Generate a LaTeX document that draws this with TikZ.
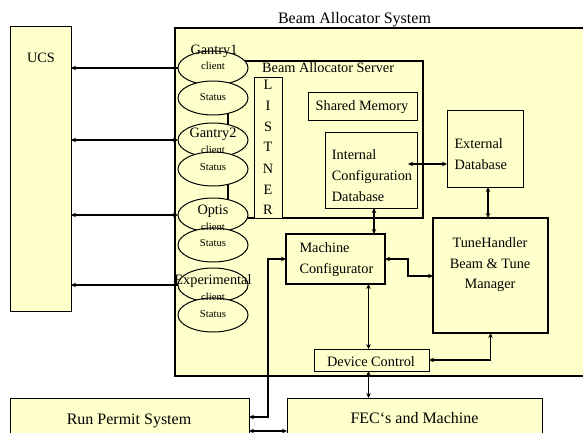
\documentclass[tikz,border=0pt]{standalone}
\usepackage{fontspec}
\setmainfont{Liberation Serif}
\usetikzlibrary{arrows.meta,shapes.geometric}
\definecolor{paper}{RGB}{255,255,204}
\begin{document}
\begin{tikzpicture}[x=1pt,y=-1pt,
  box/.style={draw, fill=paper, line width=1pt, inner sep=0pt, outer sep=0pt, anchor=north west},
  thickbox/.style={box, line width=2.8pt},
  oval/.style={ellipse, draw, fill=paper, line width=1pt, minimum width=70pt, minimum height=34pt, inner sep=0pt, outer sep=0pt},
  txt/.style={font=\fontsize{14.3}{17}\selectfont, inner sep=0pt, anchor=base},
  big/.style={font=\fontsize{16}{19}\selectfont, inner sep=0pt, anchor=base},
  small/.style={font=\fontsize{10.7}{12}\selectfont, inner sep=0pt, anchor=base},
  conn/.style={line width=1.1pt, -{Stealth[length=5pt,width=4.5pt]}},
  bi/.style={line width=1.1pt, {Stealth[length=5pt,width=4.5pt]}-{Stealth[length=5pt,width=4.5pt]}},
]
\useasboundingbox (0,0) rectangle (583,433);
\fill[white] (0,0) rectangle (583,433);

% containers and boxes
\node[box, line width=1.3pt, minimum width=412pt, minimum height=348pt] (bas) at (175,28) {};
\node[big] (title) at (354.5,24) {Beam Allocator System};
\node[box, minimum width=61pt, minimum height=284pt] (ucs) at (10,27) {};
\node[box, minimum width=239pt, minimum height=50pt] (rps) at (10,398) {};
\node[box, minimum width=255pt, minimum height=50pt] (fec) at (287,398) {};

\node[thickbox, minimum width=195pt, minimum height=157pt] (server) at (228,61) {};
\node[box, minimum width=28pt, minimum height=140pt] (lst) at (254,78) {};
\node[box, minimum width=109pt, minimum height=28pt] (shm) at (308,93) {};
\node[box, minimum width=92pt, minimum height=76pt] (icd) at (325,132) {};
\node[box, minimum width=76pt, minimum height=76pt] (ext) at (447,111) {};
\node[thickbox, minimum width=99pt, minimum height=50pt] (mc) at (286,234) {};
\node[thickbox, minimum width=115pt, minimum height=115pt] (th) at (433,218) {};
\node[box, minimum width=115pt, minimum height=22pt] (dc) at (314,349) {};

% client / status ovals
\node[oval] (g1c) at (213,68) {};
\node[oval] (g1s) at (213,98) {};
\node[oval] (g2c) at (213,140) {};
\node[oval] (g2s) at (213,169) {};
\node[oval] (opc) at (213,215) {};
\node[oval] (ops) at (213,245) {};
\node[oval] (exc) at (213,285) {};
\node[oval] (exs) at (213,315) {};

% texts
\node[txt] (tucs) at (41,62.5) {UCS};
\node[big] (trps) at (129,424) {Run Permit System};
\node[big] (tfec) at (414.5,423.5) {FEC‘s and Machine};
\node[txt, anchor=base west] (tserver) at (262,73) {Beam Allocator Server};
\node[txt] (tl1) at (268,89.7) {L};
\node[txt] (tl2) at (268,110.7) {I};
\node[txt] (tl3) at (268,131.7) {S};
\node[txt] (tl4) at (268,151.7) {T};
\node[txt] (tl5) at (268,173.7) {N};
\node[txt] (tl6) at (268,194.7) {E};
\node[txt] (tl7) at (268,214.7) {R};
\node[txt] (tshm) at (362,110.7) {Shared Memory};
\node[txt, anchor=base west] (ticd1) at (331.7,159) {Internal};
\node[txt, anchor=base west] (ticd2) at (331.7,180.5) {Configuration};
\node[txt, anchor=base west] (ticd3) at (331.7,201) {Database};
\node[txt, anchor=base west] (text1) at (454.3,148.3) {External};
\node[txt, anchor=base west] (text2) at (454.3,169) {Database};
\node[txt, anchor=base west] (tmc1) at (299.3,252.3) {Machine};
\node[txt, anchor=base west] (tmc2) at (299.3,273) {Configurator};
\node[txt] (tth1) at (490,247.7) {TuneHandler};
\node[txt] (tth2) at (490,268.3) {Beam \& Tune};
\node[txt] (tth3) at (490,288.5) {Manager};
\node[txt] (tdc) at (371,366) {Device Control};

\node[txt] (tg1) at (214,54.5) {Gantry1};
\node[small] (tg1c) at (213,70) {client};
\node[small] (tg1s) at (213,101) {Status};
\node[txt] (tg2) at (213,137) {Gantry2};
\node[small] (tg2c) at (213,153.5) {client};
\node[small] (tg2s) at (213,170.5) {Status};
\node[txt] (top) at (213,214) {Optis};
\node[small] (topc) at (213,230.5) {client};
\node[small] (tops) at (213,246.5) {Status};
\node[txt] (tex) at (213,284) {Experimental};
\node[small] (texc) at (213,300.5) {client};
\node[small] (texs) at (213,317.5) {Status};

% connectors
\draw[conn] (g1c.west) -- (ucs.east |- g1c.west);
\draw[bi] (ucs.east |- g2c.west) -- (g2c.west);
\draw[bi] (ucs.east |- opc.west) -- (opc.west);
\draw[conn] (exc.west) -- (ucs.east |- exc.west);

\coordinate (icdin) at (408,164);
\draw[bi] (icdin) -- (ext.west |- icdin);
\draw[bi] ([xshift=3pt]ext.south) -- ([xshift=3pt]ext.south |- th.north);
\draw[bi] ([xshift=3pt]icd.south) -- ([xshift=3pt]icd.south |- mc.north);
\coordinate (mcth) at (408,276);
\draw[bi] (mc.east) -| (mcth) -- (th.west |- mcth);
\draw[bi] ([xshift=-3pt]dc.north |- mc.south) -- ([xshift=-3pt]dc.north);
\draw[bi] (th.south) |- (dc.east);
\draw[bi] ([xshift=-3pt]dc.south) -- ([xshift=-3pt]dc.south |- fec.north);
\coordinate (rpbend) at (268,417);
\draw[bi] (mc.west) -| (rpbend) -- (rps.east |- rpbend);
\coordinate (rpfec) at (268,431);
\draw[bi, line width=1.8pt] (rps.east |- rpfec) -- (fec.west |- rpfec);
\end{tikzpicture}
\end{document}
